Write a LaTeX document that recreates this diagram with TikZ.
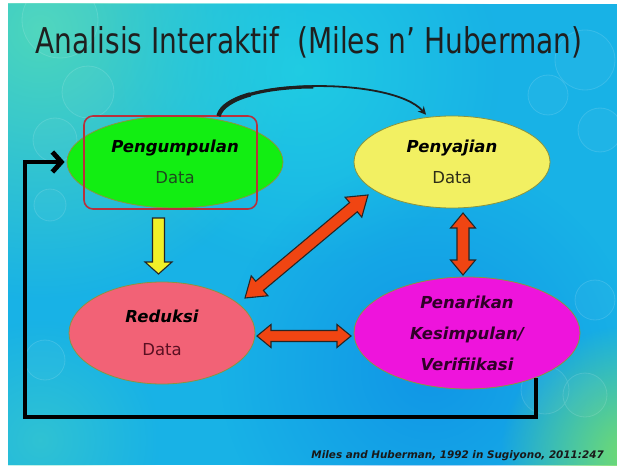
\documentclass[tikz,border=0pt]{standalone}
\usepackage{fontspec}
\setmainfont{DejaVu Sans}
\newfontfamily\titlefont{DejaVu Sans}[FakeStretch=0.79]
\usetikzlibrary{shapes.geometric,arrows.meta,calc,fadings}
\tikzfading[name=radfade, inner color=transparent!0, outer color=transparent!100]
\definecolor{gfill}{HTML}{12EE12}
\definecolor{yfill}{HTML}{F2F062}
\definecolor{rfill}{HTML}{F26276}
\definecolor{mfill}{HTML}{EE14DC}
\definecolor{eborder}{HTML}{8A9440}
\definecolor{arrred}{HTML}{F04512}
\definecolor{arryel}{HTML}{F0F028}
\definecolor{hlred}{HTML}{B8303C}
\definecolor{bgbase}{HTML}{18B2E6}
\definecolor{bgteal}{HTML}{4CD6BC}
\definecolor{bgcyan}{HTML}{22D2E2}
\definecolor{bgblue}{HTML}{0E8CE6}
\definecolor{bggreen}{HTML}{74DC6C}
\definecolor{gdata}{HTML}{1E4A1E}
\definecolor{ydata}{HTML}{2E2E18}
\definecolor{rdata}{HTML}{5A1022}
\definecolor{mtext}{HTML}{300028}
% double block arrow: #1 prefix, #2 tip A, #3 tip B, #4 shaft half, #5 head half, #6 head length, #7 style
\newcommand\dblblock[7]{%
  \coordinate (#1hA) at ($(#2)!#6!(#3)$);
  \coordinate (#1hB) at ($(#3)!#6!(#2)$);
  \draw[#7] (#2) -- ($(#1hA)!#5!90:(#2)$) -- ($(#1hA)!#4!90:(#2)$)
    -- ($(#1hB)!#4!-90:(#3)$) -- ($(#1hB)!#5!-90:(#3)$) -- (#3)
    -- ($(#1hB)!#5!90:(#3)$) -- ($(#1hB)!#4!90:(#3)$)
    -- ($(#1hA)!#4!-90:(#2)$) -- ($(#1hA)!#5!-90:(#2)$) -- cycle;}
% single block arrow: #1 prefix, #2 tail, #3 tip, #4 shaft half, #5 head half, #6 head length, #7 style
\newcommand\sglblock[7]{%
  \coordinate (#1hB) at ($(#3)!#6!(#2)$);
  \draw[#7] ($(#2)!#4!90:(#3)$) -- ($(#1hB)!#4!90:(#3)$) -- ($(#1hB)!#5!90:(#3)$)
    -- (#3) -- ($(#1hB)!#5!-90:(#3)$) -- ($(#1hB)!#4!-90:(#3)$)
    -- ($(#2)!#4!-90:(#3)$) -- cycle;}
\begin{document}
\begin{tikzpicture}[x=1pt,y=-1pt,
  ell/.style={ellipse, draw=eborder, line width=0.8pt, inner sep=0pt, align=center,
    font=\fontsize{16.5}{31}\selectfont},
  blockred/.style={fill=arrred, draw=black!85, line width=1.1pt, line join=miter},
  blockyel/.style={fill=arryel, draw=black!85, line width=1.1pt, line join=miter},
  loopline/.style={line width=4.8pt, black, line join=miter},
  curvearrow/.style={color=black!88},
  bokeh/.style={draw=white, draw opacity=0.13, fill=white, fill opacity=0.03, line width=0.8pt}]
\useasboundingbox (0,0) rectangle (617,465);
\fill[white] (0,0) rectangle (617,465);
% background
\begin{scope}
  \clip (8,4) rectangle (617,465);
  \fill[bgbase] (8,4) rectangle (617,465);
  \fill[bgteal, path fading=radfade] (40,30) circle (270pt);
  \fill[bgcyan, path fading=radfade, opacity=0.8] (300,70) circle (200pt);
  \fill[bgblue, path fading=radfade, opacity=0.75] (430,370) circle (210pt);
  \fill[bggreen, path fading=radfade] (630,455) circle (130pt);
  \fill[bgteal, path fading=radfade, opacity=0.45] (40,440) circle (120pt);
  \path[bokeh] (60,20) circle (38pt) (88,92) circle (26pt) (55,140) circle (22pt)
    (50,205) circle (16pt) (45,360) circle (20pt) (548,95) circle (20pt)
    (585,60) circle (30pt) (600,130) circle (22pt) (545,390) circle (24pt)
    (585,395) circle (22pt) (595,300) circle (20pt);
\end{scope}
% title
\node[font=\titlefont\fontsize{35.5}{40}\selectfont, text=black!88, anchor=base, inner sep=0pt]
  (title) at (309,54) {Analisis Interaktif\ \ (Miles n’ Huberman)};
% ellipses
\node[ell, fill=gfill, minimum width=216pt, minimum height=92pt] (peng) at (175,162)
  {{\bfseries\itshape Pengumpulan}\\{\color{gdata}Data}};
\node[draw=hlred, line width=1.6pt, rounded corners=9pt, minimum width=173pt, minimum height=93pt,
  inner sep=0pt] (hl) at (170.5,162.5) {};
\node[ell, fill=yfill, minimum width=196pt, minimum height=92pt] (peny) at (452,162)
  {{\bfseries\itshape Penyajian}\\{\color{ydata}Data}};
\node[ell, fill=rfill, minimum width=186pt, minimum height=102pt,
  font=\fontsize{16.5}{32.5}\selectfont] (redu) at (162,333)
  {{\bfseries\itshape Reduksi}\\{\color{rdata}Data}};
\node[ell, fill=mfill, minimum width=226pt, minimum height=112pt, text=mtext,
  font=\bfseries\itshape\fontsize{16.5}{31}\selectfont] (penar) at (467,333)
  {Penarikan\\Kesimpulan/\\Verifiikasi};
% curved arrow, thicker towards its start
\coordinate (cs) at (218.5,116);
\coordinate (ce) at (428,117);
\draw[curvearrow, line width=4.4pt] (cs) .. controls (220.9,106.5) and (232.9,99.25) .. (250.2,94.4);
\draw[curvearrow, line width=3.2pt] (cs) .. controls (223.25,97) and (266.6,87) .. (313.3,86.9);
\draw[curvearrow, line width=1.8pt, -{Stealth[length=8pt,width=8pt]}, shorten >=3pt]
  (cs) .. controls (228,78) and (392,76) .. (ce);
% yellow down arrow
\coordinate (ya) at (158.5,218);
\coordinate (yb) at (158.5,274);
\sglblock{y}{ya}{yb}{6pt}{13.5pt}{12pt}{blockyel}
% red double arrows
\coordinate (da) at (245,298);
\coordinate (db) at (368,195);
\dblblock{d}{da}{db}{6pt}{13pt}{19pt}{blockred}
\coordinate (va) at (463,213);
\coordinate (vb) at (463,275);
\dblblock{v}{va}{vb}{6pt}{12.5pt}{15pt}{blockred}
\coordinate (ha) at (257,336);
\coordinate (hb) at (351,336);
\dblblock{h}{ha}{hb}{5.5pt}{11.5pt}{14pt}{blockred}
% feedback loop
\coordinate (lbl) at (25,417);
\draw[loopline, -{Straight Barb[length=9pt,width=20pt]}, shorten >=2pt]
  (penar.-33) |- (lbl) |- (peng.west);
% source
\node[font=\bfseries\itshape\fontsize{10.4}{12}\selectfont, anchor=base east, text=black!90, inner sep=0pt]
  (src) at (604,458) {Miles and Huberman, 1992 in Sugiyono, 2011:247};
\end{tikzpicture}
\end{document}
